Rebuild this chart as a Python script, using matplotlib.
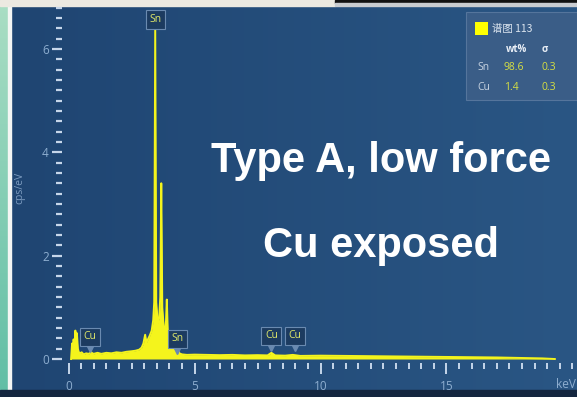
import numpy as np
import matplotlib
matplotlib.use("Agg")
import matplotlib.pyplot as plt
from matplotlib.patches import Rectangle
from matplotlib.ticker import MultipleLocator


# EDS spectrum, energy in keV and intensity in cps/eV
ENERGY_KEV = [
    0.10, 0.14, 0.17, 0.20, 0.24, 0.27, 0.30, 0.33, 0.37, 0.40,
    0.45, 0.52, 0.60, 0.70, 0.80, 0.90, 0.95, 1.00, 1.15, 1.30,
    1.50, 1.70, 1.90, 2.10, 2.30, 2.50, 2.65, 2.80, 2.90, 2.97,
    3.04, 3.09, 3.15, 3.22, 3.30, 3.36, 3.40, 3.44, 3.48, 3.54,
    3.60, 3.64, 3.68, 3.72, 3.78, 3.84, 3.87, 3.90, 3.94, 4.00,
    4.08, 4.13, 4.18, 4.25, 4.33, 4.40, 4.50, 4.70, 5.00, 5.50,
    6.00, 6.50, 7.00, 7.50, 7.90, 8.05, 8.20, 8.60, 8.90, 9.20,
    10.0, 11.0, 12.0, 13.0, 14.0, 15.0, 16.0, 17.0, 18.0, 18.8,
    19.3,
]
CPS_PER_EV = [
    0.00, 0.30, 0.12, 0.38, 0.18, 0.55, 0.22, 0.50, 0.20, 0.14,
    0.11, 0.13, 0.09, 0.11, 0.10, 0.13, 0.11, 0.10, 0.12, 0.10,
    0.12, 0.11, 0.13, 0.12, 0.14, 0.15, 0.16, 0.18, 0.22, 0.30,
    0.47, 0.32, 0.38, 0.45, 0.55, 0.75, 1.10, 6.40, 1.10, 0.70,
    0.80, 1.20, 3.40, 1.00, 0.60, 0.55, 0.75, 1.15, 0.50, 0.30,
    0.22, 0.32, 0.18, 0.14, 0.20, 0.11, 0.09, 0.08, 0.085, 0.08,
    0.075, 0.08, 0.07, 0.075, 0.07, 0.12, 0.07, 0.065, 0.08, 0.06,
    0.065, 0.06, 0.055, 0.05, 0.045, 0.04, 0.035, 0.03, 0.02, 0.012,
    0.0,
]

# element line markers
PEAK_LABELS = ["Cu", "Sn", "Sn", "Cu", "Cu"]
PEAK_KEV = [0.86, 3.44, 4.32, 8.05, 8.99]

# quantification table
ELEMENTS = ["Sn", "Cu"]
WT_PCT = ["98.6", "1.4"]
SIGMA = ["0.3", "0.3"]
SPECTRUM_NAME = "谱图 113"

W, H = 577, 397
YELLOW = "#f4f41c"
TICK_COLOR = "#c6d6ea"
LABEL_COLOR = "#8eaed0"


def fx(px):
    return px / W


def fy(py):
    return 1 - py / H


def main():
    fig = plt.figure(figsize=(W / 100, H / 100), dpi=100)

    # slide frame and panel background
    bg = fig.add_axes([0, 0, 1, 1])
    bg.set_axis_off()
    bg.set_xlim(0, W)
    bg.set_ylim(H, 0)

    c0 = np.array([31, 69, 114]) / 255
    c1 = np.array([42, 86, 132]) / 255
    t = np.linspace(0, 1, 256)[None, :, None]
    panel = c0 + (c1 - c0) * t
    bg.imshow(panel, extent=(11, W, 390, 6), aspect="auto", zorder=0)

    m0 = np.array([170, 222, 196]) / 255
    m1 = np.array([96, 190, 165]) / 255
    s = np.linspace(0, 1, 256)[:, None, None]
    strip = m0 + (m1 - m0) * s
    bg.imshow(strip, extent=(0, 8, H, 0), aspect="auto", zorder=0)

    bg.add_patch(Rectangle((8, 0), 3, H, color="#f4f6f4", zorder=1))
    bg.add_patch(Rectangle((0, 0), 335, 6, color="#ece9e1", zorder=1))
    bg.add_patch(Rectangle((335, 0), W - 335, 3, color="#111111", zorder=1))
    bg.add_patch(Rectangle((335, 3), W - 335, 3, color="#c9ccd0", zorder=1))
    bg.add_patch(Rectangle((0, 390), W, 7, color="#14263f", zorder=1))

    # spectrum axes
    ax = fig.add_axes([fx(62), fy(363), fx(W) - fx(62), fy(7) - fy(363)])
    ax.set_facecolor("none")
    ax.set_xlim(-0.26, 20.18)
    ax.set_ylim(-0.077, 6.81)
    for sp in ax.spines.values():
        sp.set_visible(False)

    ax.fill_between(ENERGY_KEV, 0, CPS_PER_EV, color=YELLOW, lw=0, zorder=3)
    ax.plot(ENERGY_KEV, CPS_PER_EV, color=YELLOW, lw=1.4, zorder=3)

    ax.yaxis.set_major_locator(MultipleLocator(2))
    ax.yaxis.set_minor_locator(MultipleLocator(0.2))
    ax.xaxis.set_minor_locator(MultipleLocator(0.5))
    ax.set_xticks([0, 5, 10, 15])
    ax.tick_params(axis="y", which="major", direction="out", length=7.5,
                   width=1.6, color=TICK_COLOR, labelcolor=LABEL_COLOR,
                   labelsize=8.5, pad=2)
    ax.tick_params(axis="y", which="minor", direction="out", length=4.5,
                   width=1.6, color=TICK_COLOR)
    ax.tick_params(axis="x", which="major", direction="out", length=8,
                   width=1.4, color=TICK_COLOR, labelcolor=LABEL_COLOR,
                   labelsize=8.5, pad=4)
    ax.tick_params(axis="x", which="minor", direction="out", length=4,
                   width=1.4, color=TICK_COLOR)
    for lab in ax.get_xticklabels() + ax.get_yticklabels():
        lab.set_fontfamily("Open Sans")

    fig.text(fx(576), fy(384), "keV", ha="right", va="center",
             color=LABEL_COLOR, fontsize=8.5, family="Open Sans")
    fig.text(fx(20), fy(188), "cps/eV", rotation=90, ha="center",
             va="center", color="#7d9cc0", fontsize=7.5, family="Open Sans")

    # element line callouts
    box_y = [0.43, 6.57, 0.39, 0.45, 0.45]
    for i, (lab, kev) in enumerate(zip(PEAK_LABELS, PEAK_KEV)):
        y = box_y[i]
        ax.text(kev, y, lab, ha="center", va="center", color="#dfe86a",
                fontsize=7.5, family="Open Sans", zorder=6,
                bbox=dict(boxstyle="square,pad=0.35", fc="#1c3b60",
                          ec="#6a8ab0", lw=0.8))
        if i != 1:
            ax.plot(kev, y - 0.24, marker="v", ms=4, color="#6a8ab0",
                    zorder=5)

    # quantification panel
    fig.patches.append(Rectangle((fx(466), fy(100)), fx(W - 466), 88 / H,
                                 transform=fig.transFigure, fc="#3a5d87",
                                 ec="#55759c", lw=0.8, zorder=5))
    fig.patches.append(Rectangle((fx(475), fy(35)), fx(13), 13 / H,
                                 transform=fig.transFigure, fc="#ffff00",
                                 ec="none", zorder=6))
    fig.text(fx(492), fy(29), SPECTRUM_NAME, ha="left", va="center",
             color="#dde6f0", fontsize=7.5, zorder=7,
             family=["Noto Sans CJK SC", "DejaVu Sans"])
    fig.text(fx(517), fy(50), "wt%", ha="center", va="center", zorder=7,
             color="#e8eef6", fontsize=7, weight="bold", family="Open Sans")
    fig.text(fx(545), fy(50), "σ", ha="center", va="center", zorder=7,
             color="#e8eef6", fontsize=7, weight="bold", family="Open Sans")
    for j, (el, wt, sg) in enumerate(zip(ELEMENTS, WT_PCT, SIGMA)):
        y = fy(68 + j * 19)
        fig.text(fx(477), y, el, ha="left", va="center", color="#c8d4e2",
                 fontsize=7.5, family="Open Sans", zorder=7)
        fig.text(fx(504), y, wt, ha="left", va="center", color="#d6e042",
                 fontsize=7.5, family="Open Sans", zorder=7)
        fig.text(fx(541), y, sg, ha="left", va="center", color="#d6e042",
                 fontsize=7.5, family="Open Sans", zorder=7)

    # sample annotation
    fig.text(fx(381), fy(172), "Type A, low force", ha="center",
             va="baseline", color="white", fontsize=30, weight="bold",
             family="Liberation Sans")
    fig.text(fx(381), fy(257), "Cu exposed", ha="center", va="baseline",
             color="white", fontsize=30, weight="bold",
             family="Liberation Sans")

    fig.savefig("out.png", dpi=100)


if __name__ == "__main__":
    main()
